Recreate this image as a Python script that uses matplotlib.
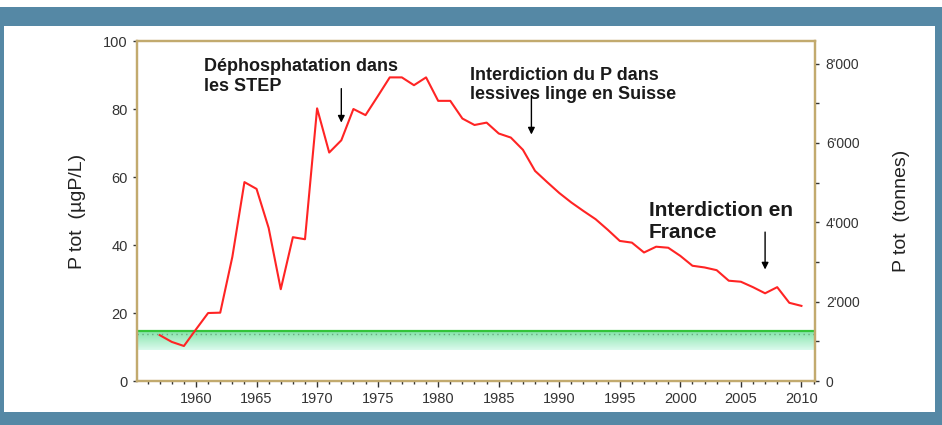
import matplotlib
matplotlib.use("Agg")
import matplotlib.pyplot as plt
import numpy as np
from matplotlib.patches import Rectangle
from matplotlib.ticker import MultipleLocator, FuncFormatter

plt.rcParams['font.family'] = ['Liberation Sans', 'DejaVu Sans']

years = list(range(1957, 2011))
p_tot = [13.5, 11.5, 10.3, 15.2, 20.0, 20.1, 36.5, 58.5, 56.5, 45.0,
         27.0, 42.3, 41.7, 80.2, 67.2, 70.8, 80.0, 78.2, 83.7, 89.3,
         89.3, 87.0, 89.3, 82.4, 82.4, 77.2, 75.3, 76.0, 72.8, 71.6,
         68.0, 61.8, 58.5, 55.3, 52.5, 50.0, 47.6, 44.5, 41.2, 40.7,
         37.8, 39.5, 39.2, 36.8, 33.9, 33.4, 32.6, 29.5, 29.2, 27.6,
         25.8, 27.6, 23.0, 22.1]

band_low, band_high = 9.0, 14.7

annotations = [
    ("Déphosphatation dans\nles STEP", 1960.7, 95.0, 1972.0, 86.0, 76.0, 13),
    ("Interdiction du P dans\nlessives linge en Suisse", 1982.6, 92.5, 1987.7, 84.0, 72.5, 13),
    ("Interdiction en\nFrance", 1997.4, 53.0, 2007.0, 43.8, 32.8, 15),
]

fig = plt.figure(figsize=(9.42, 4.25), dpi=100)
fig.patch.set_facecolor('#5588a5')
fig.patches.append(Rectangle((0, 0.9835), 1, 0.0165, transform=fig.transFigure,
                             facecolor='white', edgecolor='none', zorder=-5))
fig.patches.append(Rectangle((0.0042, 0.0306), 0.9884, 0.9082, transform=fig.transFigure,
                             facecolor='white', edgecolor='none', zorder=-5))

ax = fig.add_axes([0.1451, 0.1035, 0.7198, 0.8])
ax.set_facecolor('white')
xmin, xmax = 1955.1, 2011.1
ax.set_xlim(xmin, xmax)
ax.set_ylim(0, 100)

# gradient band
grad = np.linspace(0, 1, 100).reshape(-1, 1)
top_c = np.array([0.50, 0.89, 0.65])
bot_c = np.array([0.86, 0.98, 0.93])
img = top_c[None, None, :] * (1 - grad[:, :, None]) + bot_c[None, None, :] * grad[:, :, None]
ax.imshow(img, extent=[xmin, xmax, band_low, band_high], aspect='auto', origin='upper', zorder=1)
ax.axhline(band_high, color='#33c43a', lw=1.6, zorder=2)
ax.axhline(band_high - 0.9, color='#6aa880', lw=1.0, ls=(0, (1, 2.5)), zorder=2)

ax.plot(years, p_tot, color='#ff2424', lw=1.5, zorder=3)

for txt, tx, ty, axx, ay0, ay1, fs in annotations:
    ax.text(tx, ty, txt, fontsize=fs, fontweight='bold', color='#1a1a1a',
            ha='left', va='top', linespacing=1.2, zorder=4)
    ax.annotate('', xy=(axx, ay1), xytext=(axx, ay0),
                arrowprops=dict(arrowstyle='-|>', color='black', lw=1.0,
                                mutation_scale=10, shrinkA=0, shrinkB=0), zorder=4)

spine_c = '#c2aa6e'
for s in ax.spines.values():
    s.set_color(spine_c)
    s.set_linewidth(1.6)

ax.xaxis.set_minor_locator(MultipleLocator(1))
ax.set_xticks([1960, 1965, 1970, 1975, 1980, 1985, 1990, 1995, 2000, 2005, 2010])
ax.yaxis.set_major_locator(MultipleLocator(20))
ax.tick_params(axis='x', which='major', length=4, width=1, color='#333333',
               labelsize=10.5, labelcolor='#333333', pad=4)
ax.tick_params(axis='x', which='minor', length=2.5, width=1, color='#333333')
ax.tick_params(axis='y', which='major', length=3, width=1, color='#333333',
               labelsize=10.5, labelcolor='#333333')
ax.set_ylabel('P tot  (µgP/L)', fontsize=14, color='#222222', labelpad=12)

ax2 = ax.twinx()
ax2.set_ylim(0, 8570)
ax2.yaxis.set_major_locator(MultipleLocator(2000))
ax2.yaxis.set_minor_locator(MultipleLocator(1000))
ax2.yaxis.set_major_formatter(FuncFormatter(lambda v, p: f"{int(v):,}".replace(',', "'")))
ax2.tick_params(axis='y', which='major', length=3, width=1, color='#333333',
                labelsize=10, labelcolor='#333333', pad=5)
ax2.tick_params(axis='y', which='minor', length=3, width=1, color='#333333')
for s in ax2.spines.values():
    s.set_color(spine_c)
    s.set_linewidth(1.6)
ax2.set_ylabel('P tot  (tonnes)', fontsize=14, color='#222222', labelpad=24)

fig.savefig('out.png', dpi=100, facecolor=fig.get_facecolor())
